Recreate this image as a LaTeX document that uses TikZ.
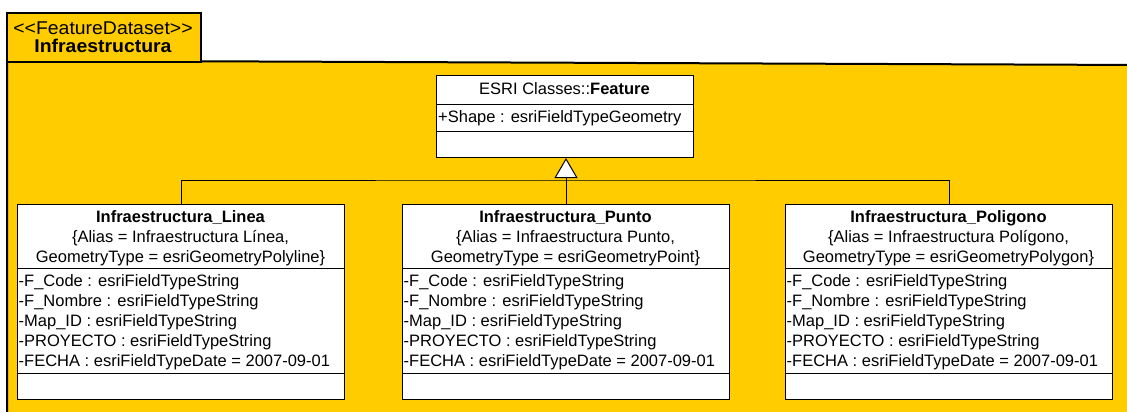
\documentclass[tikz,border=0pt]{standalone}
\usepackage{fontspec}
\setmainfont{Liberation Sans}
\usetikzlibrary{arrows.meta}
\definecolor{pkg}{HTML}{FFCC00}
\begin{document}
\begin{tikzpicture}[x=1pt,y=-1pt,
  classbox/.style={draw=black, fill=white, line width=1pt, inner sep=0pt, anchor=north west},
  txt/.style={inner sep=0pt, font=\fontsize{16.5}{19}\selectfont},
  tabtxt/.style={inner sep=0pt, anchor=base, font=\fontsize{18.5}{21}\selectfont},
  sep/.style={line width=1pt},
  conn/.style={line width=1pt, draw=black},
  pkgline/.style={line width=2pt, draw=black}]
\useasboundingbox (0,0) rectangle (1127,412);
\clip (0,0) rectangle (1127,412);
% package
\path[fill=pkg] (7,60.5) -- (1140,65) -- (1140,430) -- (7,430) -- cycle;
\draw[pkgline] (7,430) -- (7,60.5) -- (1140,65);
\node[draw=black, line width=2pt, fill=pkg, anchor=north west, minimum width=194pt, minimum height=49pt, inner sep=0pt] (tab) at (6,12) {};
\node[tabtxt, xscale=1.05, transform shape] (tab-st) at (103,35) {<\kern0pt<FeatureDataset>\kern0pt>};
\node[tabtxt, xscale=1.05, transform shape, font=\fontsize{18.5}{21}\selectfont\bfseries] (tab-name) at (103,53) {Infraestructura};
% feature class
\node[classbox, minimum width=257pt, minimum height=82pt] (feature) at (436,75) {};
\draw[sep] (436,104) -- (693,104);
\draw[sep] (436,131) -- (693,131);
\node[txt, anchor=base] (feature-title) at (564.5,95) {ESRI Classes::\textbf{Feature}};
\node[txt, anchor=base west] (feature-attr) at (438,122) {+Shape : esriFieldTypeGeometry};
% subclasses
\foreach \n/\x/\t/\a/\g in {linea/17/Linea/{Línea,}/Polyline,
                            punto/402/Punto/{Punto,}/Point,
                            poligono/785/Poligono/{Polígono,}/Polygon}{
  \node[classbox, minimum width=327pt, minimum height=195pt] (\n) at (\x,204) {};
  \draw[sep] (\x,268) -- ++(327,0);
  \draw[sep] (\x,373) -- ++(327,0);
  \node[txt, anchor=base, font=\fontsize{16.5}{19}\selectfont\bfseries] (\n-title) at (\x+163.5,222) {Infraestructura\_\t};
  \node[txt, anchor=base] (\n-alias) at (\x+163.5,242) {\{Alias = Infraestructura \a};
  \node[txt, anchor=base] (\n-geom) at (\x+163.5,262) {GeometryType = esriGeometry\g\}};
  \node[txt, anchor=base west] (\n-a1) at (\x+1.5,286) {-F\_Code : esriFieldTypeString};
  \node[txt, anchor=base west] (\n-a2) at (\x+1.5,306) {-F\_Nombre : esriFieldTypeString};
  \node[txt, anchor=base west] (\n-a3) at (\x+1.5,326) {-Map\_ID : esriFieldTypeString};
  \node[txt, anchor=base west] (\n-a4) at (\x+1.5,346) {-PROYECTO : esriFieldTypeString};
  \node[txt, anchor=base west] (\n-a5) at (\x+1.5,366) {-FECHA : esriFieldTypeDate = 2007-09-01};
}
% generalization
\coordinate (j) at (punto.north |- 0,180);
\draw[conn] (j) -- (punto.north);
\draw[conn] (linea.north) |- (j) -| (poligono.north);
\draw[conn, -{Triangle[width=23pt,length=20pt,fill=white]}] (j) -- (j |- feature.south);
\end{tikzpicture}
\end{document}
